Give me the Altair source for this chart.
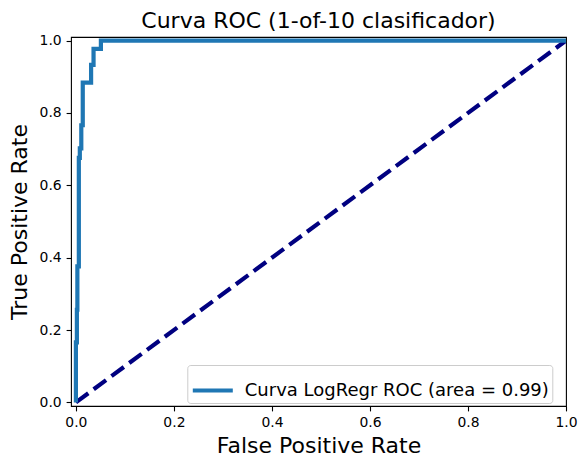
import altair as alt
import pandas as pd

# ROC step curve
fpr = [0.0, 0.0, 0.002, 0.002, 0.003, 0.003, 0.006, 0.006, 0.008, 0.008,
       0.011, 0.011, 0.014, 0.014, 0.031, 0.031, 0.036, 0.036, 0.051, 0.051, 1.0]
tpr = [0.0, 0.166, 0.166, 0.256, 0.256, 0.376, 0.376, 0.676, 0.676, 0.702,
       0.702, 0.766, 0.766, 0.884, 0.884, 0.933, 0.933, 0.977, 0.977, 1.0, 1.0]
diag_x = [0.0, 1.0]
diag_y = [0.0, 1.0]
tick_values = [0.0, 0.2, 0.4, 0.6, 0.8, 1.0]
series_label = "Curva LogRegr ROC (area = 0.99)"
title_text = "Curva ROC (1-of-10 clasificador)"
x_title = "False Positive Rate"
y_title = "True Positive Rate"

FONT = "DejaVu Sans"
W, H = 495, 369

roc_df = pd.DataFrame({"fpr": fpr, "tpr": tpr, "i": list(range(len(fpr))),
                       "serie": series_label})
diag_df = pd.DataFrame({"fpr": diag_x, "tpr": diag_y, "i": [0, 1]})
title_df = pd.DataFrame({"t": [title_text]})

x_scale = alt.Scale(domain=[-0.01, 1.0], nice=False, zero=False)
y_scale = alt.Scale(domain=[-0.01, 1.01], nice=False, zero=False)

common_axis = dict(values=tick_values, format=".1f", grid=False, domain=False,
                   tickColor="black", tickSize=4.9, tickWidth=1.1,
                   labelFontSize=13.9, labelFont=FONT, labelColor="black",
                   labelPadding=4.9, labelFlush=False, labelOverlap=False,
                   labelBound=False,
                   titleFontSize=22, titleFont=FONT, titleFontWeight="normal",
                   titleColor="black", titleBaseline="alphabetic")

x_axis = alt.Axis(title=x_title, titleY=46.7, **common_axis)
y_axis = alt.Axis(title=y_title, titleX=-44.3, titleAngle=270, **common_axis)

roc = alt.Chart(roc_df).mark_line(strokeWidth=4.2, clip=True).encode(
    x=alt.X("fpr:Q", scale=x_scale, axis=x_axis),
    y=alt.Y("tpr:Q", scale=y_scale, axis=y_axis),
    order="i:Q",
    color=alt.Color("serie:N",
                    scale=alt.Scale(domain=[series_label], range=["#1f77b4"]),
                    legend=alt.Legend(title=None, orient="none",
                                      legendX=116.3, legendY=328,
                                      symbolType="stroke", symbolSize=1600,
                                      symbolStrokeWidth=4.2,
                                      symbolStrokeColor="#1f77b4",
                                      labelFontSize=18, labelFont=FONT,
                                      labelColor="black", labelOffset=9.5,
                                      labelLimit=0, padding=3,
                                      strokeColor="#cccccc",
                                      fillColor="rgba(255,255,255,0.8)",
                                      cornerRadius=3)),
)

diag = alt.Chart(diag_df).mark_line(strokeWidth=4.2, strokeDash=[15.4, 6.7],
                                    color="#000080", clip=True).encode(
    x=alt.X("fpr:Q", scale=x_scale),
    y=alt.Y("tpr:Q", scale=y_scale),
    order="i:Q",
)

title_mark = alt.Chart(title_df).mark_text(
    font=FONT, fontSize=22, color="black", align="center",
    baseline="alphabetic",
).encode(
    text="t:N",
    x=alt.value(W / 2),
    y=alt.value(-9),
)

chart = alt.layer(diag, roc, title_mark).properties(
    width=W, height=H,
    autosize=alt.AutoSizeParams(type="none"),
    padding={"left": 63, "top": 29, "right": 13, "bottom": 54},
).configure_view(stroke="black", strokeWidth=1.1)

chart.save("out.html", embed_options={"renderer": "svg", "actions": False})
